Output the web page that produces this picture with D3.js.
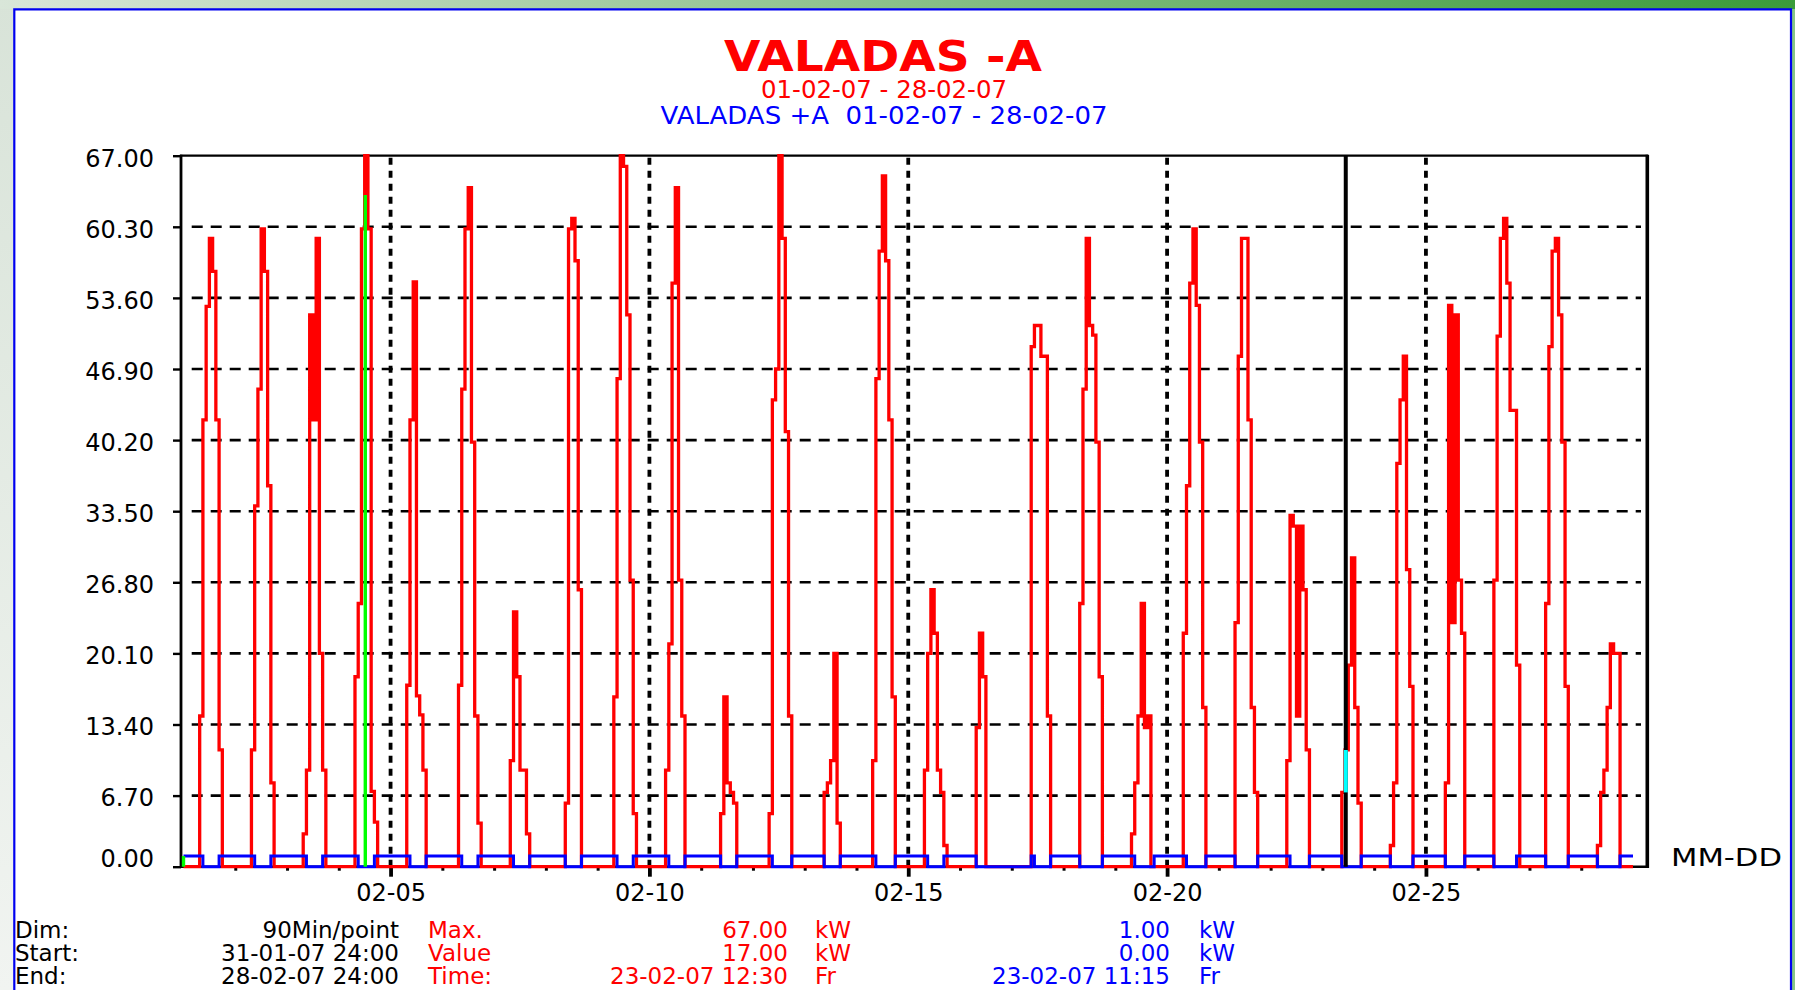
<!DOCTYPE html>
<html lang="en">
<head>
  <meta charset="UTF-8">
  <title>VALADAS -A</title>
  <script src="https://d3js.org/d3.v7.min.js"></script>
  <style>
    body { margin: 0; overflow: hidden; background: #fff; }
    svg { display: block; }
    text { font-family: "DejaVu Sans", sans-serif; }
  </style>
</head>
<body>
  <svg id="chart" width="1795" height="990"></svg>

  <script>
    // ---- data: 90 min per point, 16 points per day, 01-02-07 .. 28-02-07 ----
    const startTime = Date.UTC(2007, 1, 1);
    const slotMinutes = 90;
    const slotsPerDay = 16;
    const dayCount = 28;

    // red series (-A): first non-zero slot of each day and the readings that follow
    const redStart = [5, 5, 5, 5, 5, 5, 5, 6, 5, 5, 6, 5, 6, 5, 5, 5, 6, 5, 5, 5, 5, 5, 6, 5, 6, 5, 5, 5];
    const redValues = [
      [14.2, 42.1, 52.8, 59.2, 56.1, 42.1, 11.0],
      [11.0, 34.0, 45.0, 60.1, 56.1, 35.9, 7.9],
      [3.1, 9.1, 52.0, 42.1, 59.2, 20.1, 9.1],
      [17.9, 24.8, 60.1, 67.0, 60.1, 7.1, 4.2],
      [17.1, 42.1, 55.1, 16.1, 14.3, 9.1],
      [17.1, 45.0, 60.1, 64.0, 40.0, 14.2, 4.1],
      [10.0, 24.0, 17.9, 9.1, 9.1, 3.1],
      [6.0, 60.1, 61.1, 57.1, 26.1],
      [16.0, 46.0, 67.0, 66.0, 52.0, 27.0, 5.0],
      [9.1, 21.0, 55.0, 64.0, 27.0, 14.2],
      [5.0, 16.0, 7.9, 7.0, 6.0],
      [5.0, 44.0, 46.9, 67.0, 59.2, 41.0, 14.2],
      [7.0, 7.9, 10.0, 20.1, 4.1],
      [10.0, 46.0, 58.0, 65.1, 57.1, 42.1, 16.0],
      [9.1, 20.1, 26.1, 22.0, 9.1, 7.0, 2.0],
      [13.1, 22.0, 17.9],
      [49.0, 51.0, 51.0, 48.1, 48.1, 14.2],
      [24.8, 45.0, 59.2, 51.0, 50.1, 40.0, 17.9],
      [3.1, 7.9, 14.2, 24.8, 13.1, 14.2],
      [22.0, 35.9, 55.0, 60.1, 52.9, 40.0, 15.0],
      [23.0, 48.1, 59.2, 59.2, 42.1, 15.0, 7.0],
      [10.0, 33.1, 32.1, 14.2, 32.1, 26.1, 11.0],
      [7.0, 11.0, 19.0, 29.1, 15.0, 6.0],
      [2.0, 7.9, 38.0, 44.0, 48.1, 28.0, 17.0],
      [7.9, 52.9, 23.0, 52.0, 27.0, 22.0],
      [27.0, 50.0, 59.2, 61.1, 55.0, 43.0, 43.0, 19.0],
      [24.8, 49.0, 58.0, 59.2, 52.0, 40.0, 17.0],
      [2.0, 7.0, 9.1, 15.0, 21.0, 20.1, 20.1]
    ];

    // blue series (+A): 1.00 kW except in these [day, fromSlot, toSlot) ranges, where it is 0.00
    const blueLow = [
      [0, 6, 11], [1, 6, 11], [2, 6, 11], [3, 6, 11], [4, 6, 11], [5, 6, 11], [6, 6, 11],
      [7, 6, 11], [8, 6, 11], [9, 6, 11], [10, 6, 11], [11, 6, 12], [12, 6, 11], [13, 6, 12],
      [14, 6, 11], [15, 5, 16], [16, 0, 6], [16, 7, 12], [17, 5, 12], [18, 6, 12], [19, 6, 12],
      [20, 5, 12], [21, 6, 12], [22, 6, 12], [23, 5, 12], [24, 6, 12], [25, 5, 12], [26, 5, 12],
      [27, 5, 12]
    ];

    const yTicks = [0, 6.7, 13.4, 20.1, 26.8, 33.5, 40.2, 46.9, 53.6, 60.3, 67];
    const labelDays = [5, 10, 15, 20, 25];
    const cursorTime = Date.UTC(2007, 1, 23, 10, 50);
    const greenMarks = [[Date.UTC(2007, 1, 4, 12, 17), 63.3], [startTime, 1.0]];

    const infoNames = ["Dim:", "Start:", "End:"];
    const infoValues = ["90Min/point", "31-01-07 24:00", "28-02-07 24:00"];
    const statNames = ["Max.", "Value", "Time:"];
    const redStats = ["67.00", "17.00", "23-02-07 12:30"];
    const redUnits = ["kW", "kW", "Fr"];
    const blueStats = ["1.00", "0.00", "23-02-07 11:15"];
    const blueUnits = ["kW", "kW", "Fr"];

    // ---- build the two series ----
    const nSlots = dayCount * slotsPerDay;
    const red = new Array(nSlots).fill(0);
    redValues.forEach((vals, d) => vals.forEach((v, j) => { red[d * slotsPerDay + redStart[d] + j] = v; }));
    const blue = new Array(nSlots).fill(1);
    blueLow.forEach(([d, a, b]) => { for (let j = a; j < b; j++) blue[d * slotsPerDay + j] = 0; });

    const slotTime = k => new Date(startTime + k * slotMinutes * 60000);
    const toPoints = arr => arr.map((v, k) => [slotTime(k), v]).concat([[slotTime(arr.length), arr[arr.length - 1]]]);

    // ---- layout ----
    const W = 1795, H = 990;
    const plot = { left: 180, top: 155.7, right: 1648, bottom: 866.7 };
    const svg = d3.select("#chart");

    const x = d3.scaleUtc()
      .domain([new Date(startTime), slotTime(nSlots)])
      .range([183.5, 1633]);
    const y = d3.scaleLinear().domain([0, 67]).range([plot.bottom, plot.top]);

    // window frame
    const defs = svg.append("defs");
    const topGrad = defs.append("linearGradient").attr("id", "topband");
    topGrad.append("stop").attr("offset", "0%").attr("stop-color", "#d9e6d9");
    topGrad.append("stop").attr("offset", "100%").attr("stop-color", "#3a9b3a");
    const sideGrad = defs.append("linearGradient").attr("id", "side").attr("x2", 0).attr("y2", 1);
    sideGrad.append("stop").attr("offset", "0%").attr("stop-color", "#d8e3d8");
    sideGrad.append("stop").attr("offset", "100%").attr("stop-color", "#f1f4f1");

    svg.append("rect").attr("width", W).attr("height", H).attr("fill", "url(#side)");
    svg.append("rect").attr("x", 1790).attr("width", 5).attr("height", H).attr("fill", "#86c586");
    svg.append("rect").attr("width", W).attr("height", 9).attr("fill", "url(#topband)");
    svg.append("rect").attr("x", 14).attr("y", 9).attr("width", 1777).attr("height", H - 9).attr("fill", "#fff");
    svg.append("path")
      .attr("d", `M14.3,${H}V9.3H1791V${H}`)
      .attr("fill", "none").attr("stroke", "#0000f0").attr("stroke-width", 2.2);

    // titles
    svg.append("text").attr("x", 883).attr("y", 71).attr("text-anchor", "middle")
      .attr("font-size", 42).attr("font-weight", "bold").attr("fill", "#ff0000")
      .attr("textLength", 318).attr("lengthAdjust", "spacingAndGlyphs")
      .text("VALADAS -A");
    svg.append("text").attr("x", 884).attr("y", 98).attr("text-anchor", "middle")
      .attr("font-size", 24).attr("fill", "#ff0000")
      .attr("textLength", 246).attr("lengthAdjust", "spacingAndGlyphs")
      .text("01-02-07 - 28-02-07");
    svg.append("text").attr("x", 884).attr("y", 124).attr("text-anchor", "middle")
      .attr("font-size", 24).attr("fill", "#0000ff").style("white-space", "pre")
      .attr("textLength", 447).attr("lengthAdjust", "spacingAndGlyphs")
      .text("VALADAS +A  01-02-07 - 28-02-07");

    // horizontal dashed grid
    svg.append("g").selectAll("line")
      .data(yTicks.filter(t => t > 0 && t < 67))
      .join("line")
      .attr("x1", 191.7).attr("x2", 1641)
      .attr("y1", d => y(d)).attr("y2", d => y(d))
      .attr("stroke", "#000").attr("stroke-width", 2.6).attr("stroke-dasharray", "11,8");

    // vertical dotted date lines
    const labelDates = labelDays.map(d => new Date(Date.UTC(2007, 1, d)));
    svg.append("g").selectAll("line")
      .data(labelDates)
      .join("line")
      .attr("x1", d => x(d)).attr("x2", d => x(d))
      .attr("y1", plot.top + 2).attr("y2", plot.bottom)
      .attr("stroke", "#000").attr("stroke-width", 3.8).attr("stroke-dasharray", "7,6");

    // plot frame
    svg.append("line").attr("x1", plot.left).attr("x2", plot.right).attr("y1", plot.top).attr("y2", plot.top)
      .attr("stroke", "#000").attr("stroke-width", 2.2);
    svg.append("line").attr("x1", 181).attr("x2", 181).attr("y1", plot.top - 1).attr("y2", plot.bottom + 1)
      .attr("stroke", "#000").attr("stroke-width", 2.8);
    svg.append("line").attr("x1", 1647.3).attr("x2", 1647.3).attr("y1", plot.top - 1).attr("y2", plot.bottom + 1.2)
      .attr("stroke", "#000").attr("stroke-width", 3.6);
    svg.append("line").attr("x1", plot.left).attr("x2", plot.right).attr("y1", plot.bottom).attr("y2", plot.bottom)
      .attr("stroke", "#000").attr("stroke-width", 2.4);

    // y axis
    const gy = svg.append("g").attr("transform", "translate(181,0)")
      .call(d3.axisLeft(y).tickValues(yTicks).tickFormat(d3.format(".2f")).tickSize(8).tickPadding(19));
    gy.select(".domain").remove();
    gy.attr("font-family", "DejaVu Sans").attr("font-size", 24);
    gy.selectAll("line").attr("stroke", "#000").attr("stroke-width", 2.4);
    gy.selectAll("text").attr("fill", "#000").attr("dy", d => d === 0 ? "0em" : "0.43em");

    // x axis: labelled days and daily minor ticks
    const gx = svg.append("g").attr("transform", `translate(0,${plot.bottom})`)
      .call(d3.axisBottom(x).tickValues(labelDates).tickFormat(d3.utcFormat("%m-%d")).tickSize(10).tickPadding(7));
    gx.select(".domain").remove();
    gx.attr("font-family", "DejaVu Sans").attr("font-size", 24);
    gx.selectAll("line").attr("stroke", "#000").attr("stroke-width", 3.8);
    gx.selectAll("text").attr("fill", "#000");

    const minorDates = d3.range(1, dayCount).filter(i => !labelDays.includes(i + 1))
      .map(i => new Date(startTime + i * 864e5));
    const gm = svg.append("g").attr("transform", `translate(0,${plot.bottom})`)
      .call(d3.axisBottom(x).tickValues(minorDates).tickFormat("").tickSize(4));
    gm.select(".domain").remove();
    gm.selectAll("line").attr("stroke", "#000").attr("stroke-width", 3);

    svg.append("text").attr("x", 1671).attr("y", 866).attr("font-size", 24).attr("fill", "#000")
      .attr("textLength", 111).attr("lengthAdjust", "spacingAndGlyphs").text("MM-DD");

    // series
    const line = d3.line().curve(d3.curveStepAfter).x(d => x(d[0])).y(d => y(d[1]));
    svg.append("path").datum(toPoints(red)).attr("d", line)
      .attr("fill", "none").attr("stroke", "#ff0000").attr("stroke-width", 3.3);
    svg.append("path").datum(toPoints(blue)).attr("d", line)
      .attr("fill", "none").attr("stroke", "#0000ff").attr("stroke-width", 3);

    // green markers
    svg.append("g").selectAll("line")
      .data(greenMarks)
      .join("line")
      .attr("x1", d => x(d[0])).attr("x2", d => x(d[0]))
      .attr("y1", y(0)).attr("y2", d => y(d[1]))
      .attr("stroke", "#00ff00").attr("stroke-width", 3.4);

    // cursor (black, xor over the red step it crosses)
    const cx = x(new Date(cursorTime));
    const ck = Math.floor((cursorTime - startTime) / (slotMinutes * 60000));
    svg.append("line").attr("x1", cx).attr("x2", cx).attr("y1", plot.top).attr("y2", plot.bottom)
      .attr("stroke", "#000").attr("stroke-width", 4);
    svg.append("line").attr("x1", cx).attr("x2", cx)
      .attr("y1", y(red[ck - 1])).attr("y2", y(red[ck]))
      .attr("stroke", "#00ffff").attr("stroke-width", 4);

    // info block
    const rows = [938, 961, 984];
    const info = svg.append("g").attr("font-size", 23);
    const column = (texts, xPos, anchor, color) => info.append("g").selectAll("text")
      .data(texts).join("text")
      .attr("x", xPos).attr("y", (d, i) => rows[i])
      .attr("text-anchor", anchor).attr("fill", color).text(d => d);
    column(infoNames, 15, "start", "#000");
    column(infoValues, 399, "end", "#000");
    column(statNames, 428, "start", "#ff0000");
    column(redStats, 788, "end", "#ff0000");
    column(redUnits, 815, "start", "#ff0000");
    column(blueStats, 1170, "end", "#0000ff");
    column(blueUnits, 1199, "start", "#0000ff");
  </script>
</body>
</html>
